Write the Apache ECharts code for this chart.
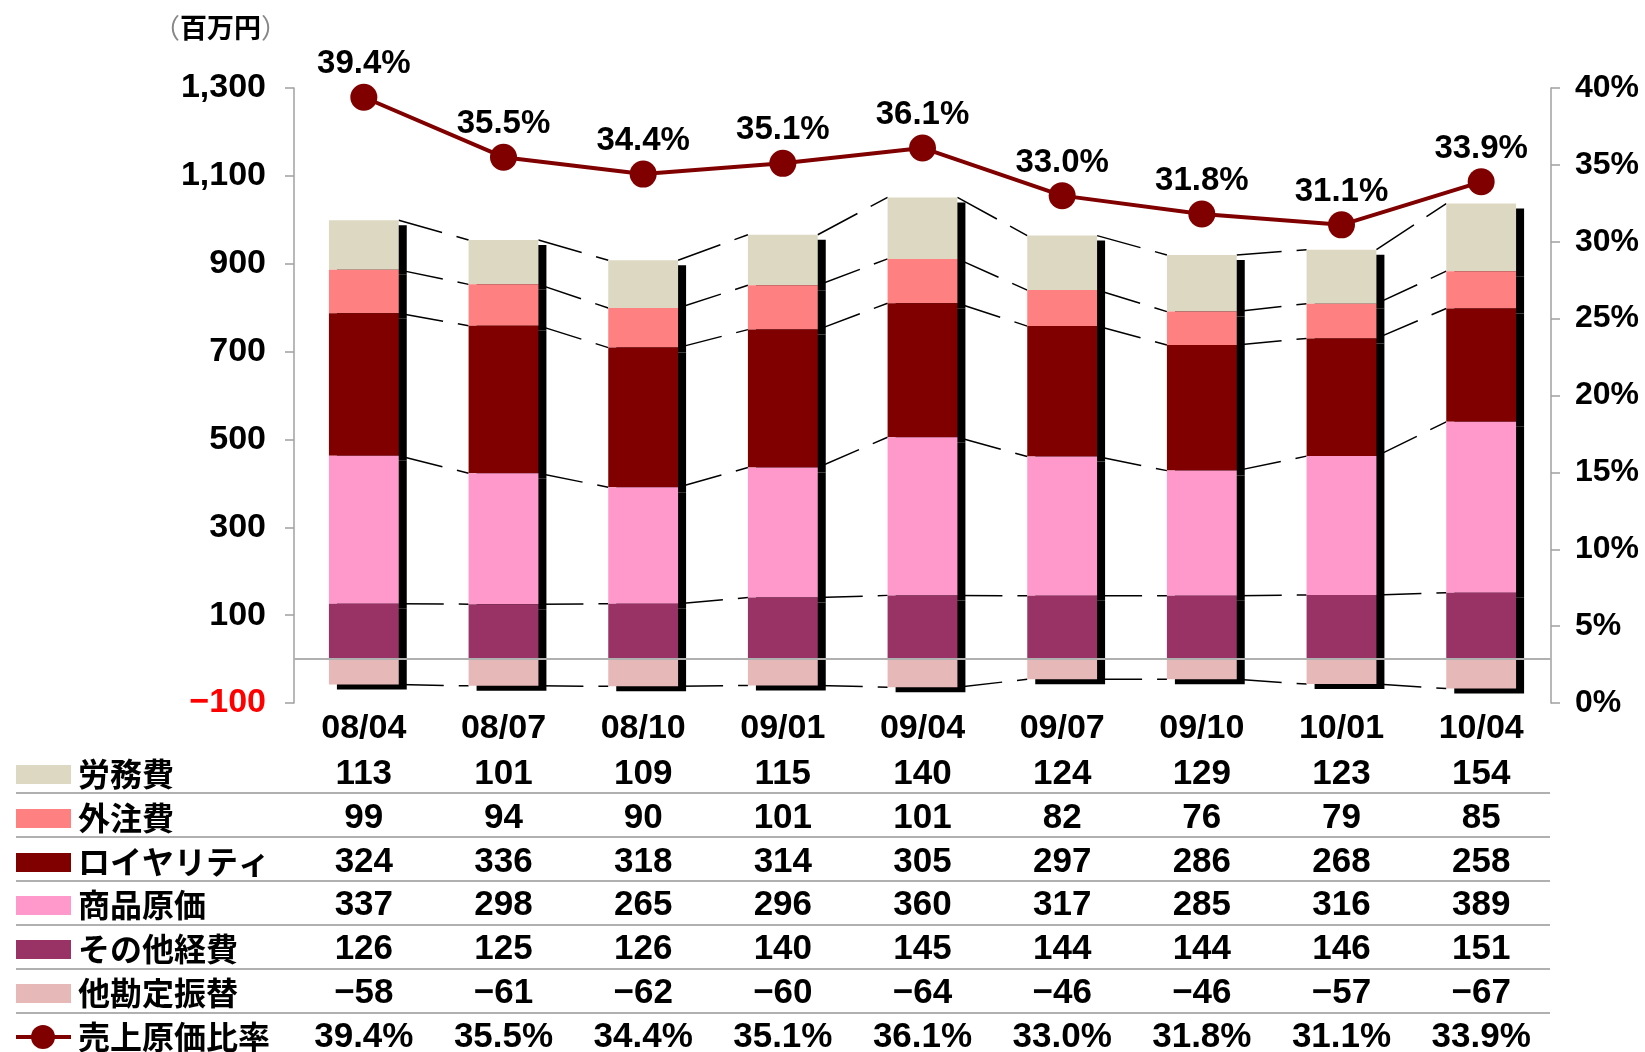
<!DOCTYPE html>
<html>
<head>
<meta charset="utf-8">
<script src="https://cdn.jsdelivr.net/npm/echarts@6/dist/echarts.min.js"></script>
<style>
html, body { margin: 0; padding: 0; background: #fff; }
#main { width: 1645px; height: 1052px; }
</style>
</head>
<body>
<div id="main"></div>
<script>
// 四半期
var categories = ['08/04', '08/07', '08/10', '09/01', '09/04', '09/07', '09/10', '10/01', '10/04'];
// 費目 (百万円)
var roumuhi     = [113, 101, 109, 115, 140, 124, 129, 123, 154];   // 労務費
var gaichuhi    = [99, 94, 90, 101, 101, 82, 76, 79, 85];          // 外注費
var royalty     = [324, 336, 318, 314, 305, 297, 286, 268, 258];   // ロイヤリティ
var shohinGenka = [337, 298, 265, 296, 360, 317, 285, 316, 389];   // 商品原価
var sonotaKeihi = [126, 125, 126, 140, 145, 144, 144, 146, 151];   // その他経費
var takanjo     = [-58, -61, -62, -60, -64, -46, -46, -57, -67];   // 他勘定振替
// 売上原価比率 (%)
var genkaRitsu  = [39.4, 35.5, 34.4, 35.1, 36.1, 33.0, 31.8, 31.1, 33.9];
// 軸
var leftMin = -100, leftMax = 1300, leftStep = 200;
var rightMin = 0, rightMax = 40, rightStep = 5;

var FONT = 'Liberation Sans';
var JFONT = '"Noto Sans CJK JP"';

function sumArr(a, b) { return a.map(function (v, i) { return v + b[i]; }); }
var lv1 = sonotaKeihi;
var lv2 = sumArr(lv1, shohinGenka);
var lv3 = sumArr(lv2, royalty);
var lv4 = sumArr(lv3, gaichuhi);
var lv5 = sumArr(lv4, roumuhi);
var levels = [lv1, lv2, lv3, lv4, lv5, takanjo];

function fmtNum(v) {
  var s = String(Math.abs(v)).replace(/\B(?=(\d{3})+(?!\d))/g, ',');
  return v < 0 ? '\u2212' + s : s;
}

// 表の行
var rows = [
  { name: '労務費', data: roumuhi, color: '#DDD8C2' },
  { name: '外注費', data: gaichuhi, color: '#FF8080' },
  { name: 'ロイヤリティ', data: royalty, color: '#800000' },
  { name: '商品原価', data: shohinGenka, color: '#FF99CC' },
  { name: 'その他経費', data: sonotaKeihi, color: '#993366' },
  { name: '他勘定振替', data: takanjo, color: '#E6B9B8' },
  { name: '売上原価比率', data: genkaRitsu, color: '#800000', line: true }
];
var catCenter = 729;
var rowCenters = [774, 818, 862, 905, 949, 993, 1037];
var sepYs = [793, 837, 881, 925, 969, 1013];
var labelMargin = 9;

var xAxes = [{
  type: 'category',
  data: categories,
  axisLine: { show: false },
  axisTick: { show: false },
  axisLabel: { fontSize: 34, fontWeight: 'bold', color: '#000', margin: labelMargin, interval: 0, lineHeight: 34 }
}];
rows.forEach(function (r, k) {
  xAxes.push({
    type: 'category',
    position: 'bottom',
    offset: rowCenters[k] - catCenter,
    data: r.data.map(function (v) { return r.line ? v.toFixed(1) + '%' : fmtNum(v); }),
    axisLine: { show: false },
    axisTick: { show: false },
    axisLabel: { fontSize: 35, fontWeight: 'bold', color: '#000', margin: labelMargin, interval: 0, lineHeight: 34 }
  });
});

var graphics = [{
  type: 'text', left: 153, top: 14,
  style: {
    text: '{p|（}{b|百万円}{p|）}',
    rich: {
      p: { fontSize: 27, fontFamily: JFONT, fill: '#888' },
      b: { fontSize: 27, fontFamily: JFONT, fontWeight: 'bold', fill: '#000' }
    }
  }
}];
sepYs.forEach(function (y) {
  graphics.push({ type: 'line', shape: { x1: 16, y1: y, x2: 1550, y2: y }, style: { stroke: '#b0b0b0', lineWidth: 2 } });
});
rows.forEach(function (r, k) {
  var cy = rowCenters[k];
  if (r.line) {
    graphics.push({ type: 'line', shape: { x1: 16, y1: cy, x2: 71, y2: cy }, style: { stroke: r.color, lineWidth: 4 } });
    graphics.push({ type: 'circle', shape: { cx: 43, cy: cy, r: 12 }, style: { fill: r.color } });
  } else {
    graphics.push({ type: 'rect', shape: { x: 16, y: cy - 9, width: 55, height: 19 }, style: { fill: r.color } });
  }
  graphics.push({
    type: 'text', x: 78, y: cy,
    style: { text: r.name, fontSize: 32, fontWeight: 'bold', fontFamily: JFONT, fill: '#000', verticalAlign: 'middle' }
  });
});

var shadow = { shadowColor: '#000', shadowOffsetX: 8, shadowOffsetY: 5, shadowBlur: 0 };
function barSeries(name, data, color, z) {
  return {
    name: name, type: 'bar', stack: 'cost', data: data, z: z,
    barWidth: '50%',
    itemStyle: Object.assign({ color: color }, shadow),
    emphasis: { disabled: true },
    silent: true
  };
}

var chart = echarts.init(document.getElementById('main'));
chart.setOption({
  animation: false,
  textStyle: { fontFamily: FONT },
  grid: { left: 294, right: 94, top: 88, bottom: 349, outerBoundsMode: 'none', containLabel: false },
  xAxis: xAxes,
  yAxis: [{
    type: 'value', min: leftMin, max: leftMax, interval: leftStep,
    axisLine: { show: true, lineStyle: { color: '#a0a0a0', width: 1.5 } },
    axisTick: { show: true, length: 9, lineStyle: { color: '#a0a0a0', width: 1.5 } },
    splitLine: { show: false },
    axisLabel: {
      fontSize: 34, fontWeight: 'bold', margin: 28,
      formatter: fmtNum,
      color: function (v) { return Number(v) < 0 ? '#FF0000' : '#000'; }
    }
  }, {
    type: 'value', min: rightMin, max: rightMax, interval: rightStep,
    axisLine: { show: true, lineStyle: { color: '#a0a0a0', width: 1.5 } },
    axisTick: { show: true, length: 9, lineStyle: { color: '#a0a0a0', width: 1.5 } },
    splitLine: { show: false },
    axisLabel: { fontSize: 32, fontWeight: 'bold', color: '#000', margin: 24, formatter: '{value}%' }
  }],
  graphic: graphics,
  series: [
    {
      type: 'custom', z: 1, silent: true,
      data: categories.slice(0, -1).map(function (c, i) { return [i]; }),
      renderItem: function (params, api) {
        var i = api.value(0);
        var bw = api.size([1, 0])[0] * 0.5;
        var children = levels.map(function (lv) {
          var a = api.coord([i, lv[i]]);
          var b = api.coord([i + 1, lv[i + 1]]);
          return {
            type: 'line',
            shape: { x1: a[0] + bw / 2, y1: a[1], x2: b[0] - bw / 2, y2: b[1] },
            style: { stroke: '#000', lineWidth: 1.5, lineDash: [45, 15] }
          };
        });
        return { type: 'group', children: children };
      }
    },
    barSeries('その他経費', sonotaKeihi, '#993366', 8),
    barSeries('商品原価', shohinGenka, '#FF99CC', 7),
    barSeries('ロイヤリティ', royalty, '#800000', 6),
    barSeries('外注費', gaichuhi, '#FF8080', 5),
    barSeries('労務費', roumuhi, '#DDD8C2', 4),
    barSeries('他勘定振替', takanjo, '#E6B9B8', 9),
    {
      type: 'custom', z: 20, silent: true,
      data: [[0, 0]],
      renderItem: function (params, api) {
        var p = api.coord([0, 0]);
        var cs = params.coordSys;
        return {
          type: 'line',
          shape: { x1: cs.x, y1: p[1], x2: cs.x + cs.width, y2: p[1] },
          style: { stroke: '#b0b0b0', lineWidth: 2 }
        };
      }
    },
    {
      name: '売上原価比率', type: 'line', yAxisIndex: 1, z: 30,
      data: genkaRitsu,
      symbol: 'circle', symbolSize: 27,
      lineStyle: { color: '#800000', width: 4 },
      itemStyle: { color: '#800000' },
      emphasis: { disabled: true },
      label: {
        show: true, position: 'top', distance: 3,
        fontSize: 33, fontWeight: 'bold', color: '#000',
        formatter: function (p) { return p.value.toFixed(1) + '%'; }
      }
    }
  ]
});
</script>
</body>
</html>
